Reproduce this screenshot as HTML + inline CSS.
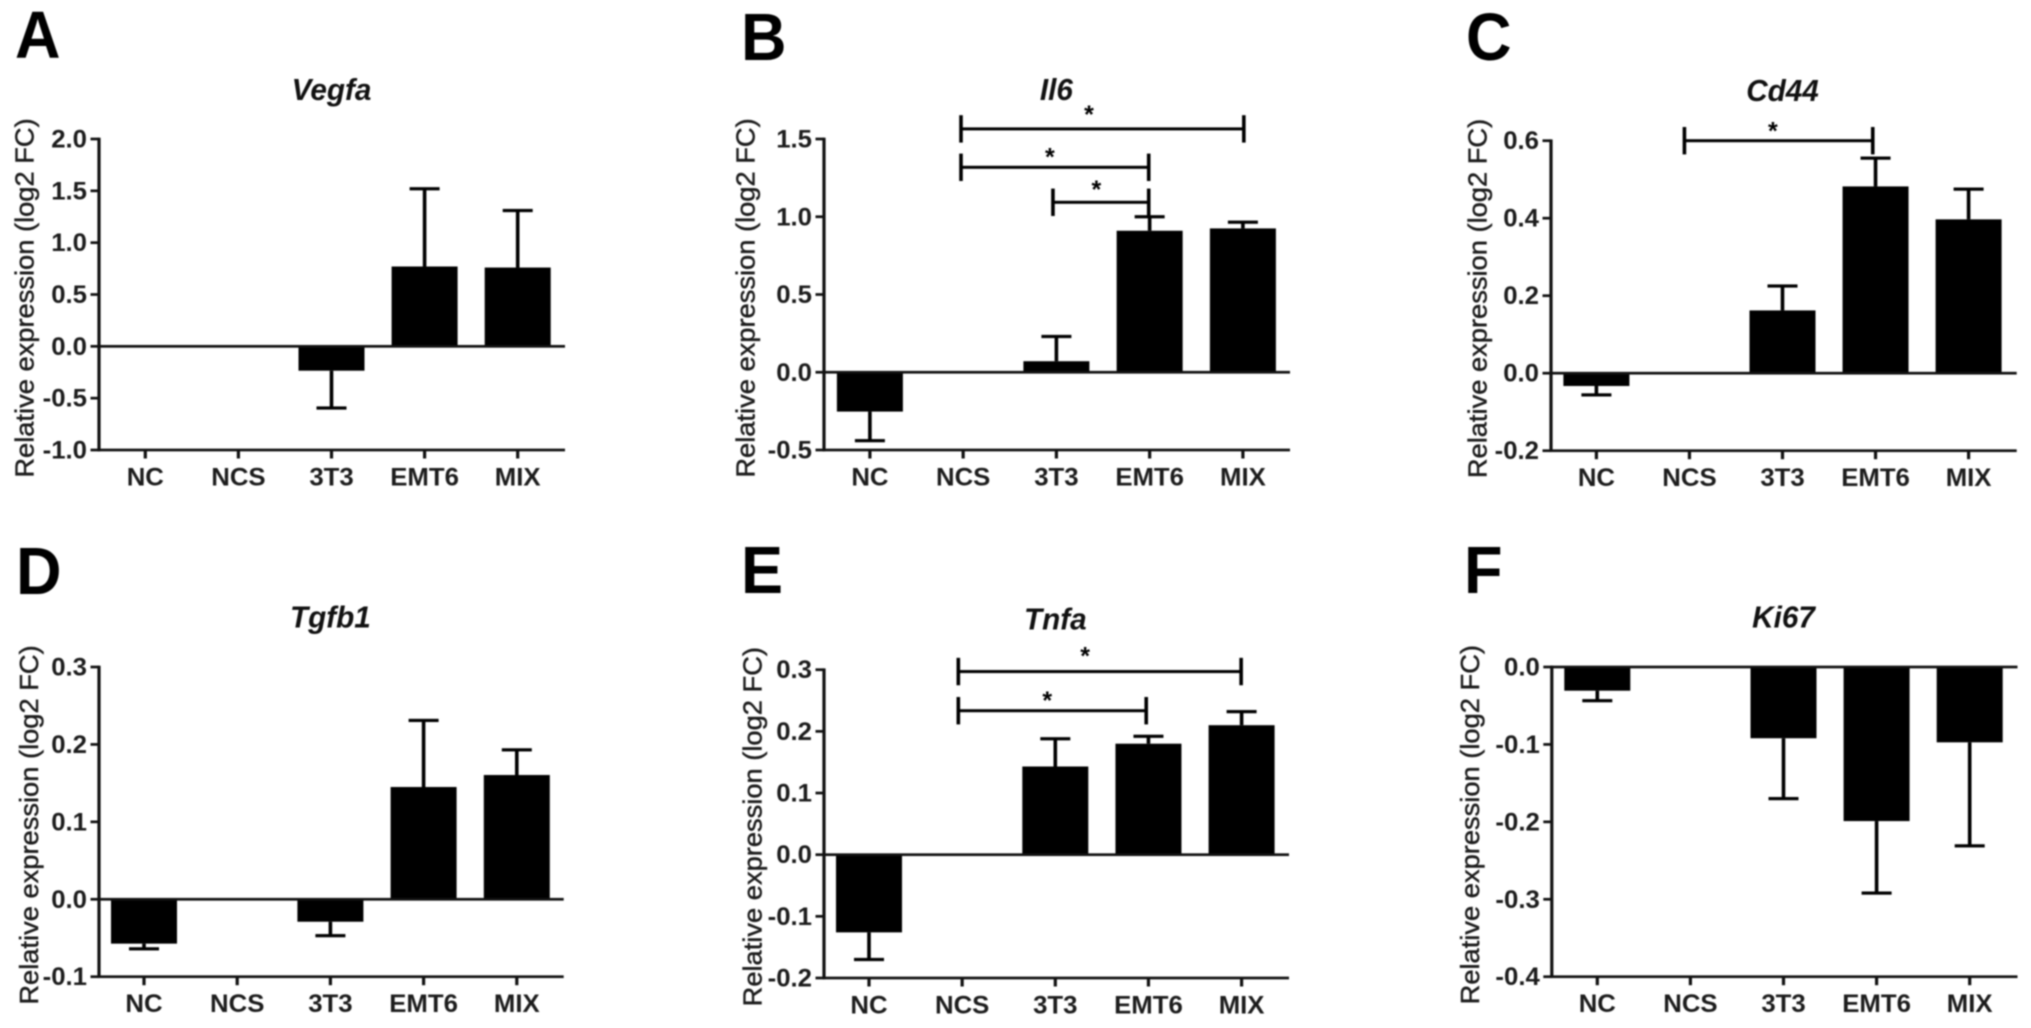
<!DOCTYPE html>
<html lang="en">
<head>
<meta charset="utf-8">
<title>Relative expression of Vegfa, Il6, Cd44, Tgfb1, Tnfa and Ki67</title>
<style>
html,body{margin:0;padding:0;background:#fff;width:2031px;height:1028px;overflow:hidden}
#figure{display:block;filter:blur(0.75px)}
text{font-family:"Liberation Sans",Arial,sans-serif;fill:#1c1c1c}
.tick{font-weight:700;font-size:23px}
.ytitle{font-weight:400;font-size:26px;stroke:#222;stroke-width:.45px}
.title{font-weight:700;font-style:italic;font-size:27px;fill:#111}
.letter{font-weight:700;font-size:63px;fill:#000}
.star{font-weight:700;font-size:25px;fill:#000}
</style>
</head>
<body>
<svg id="figure" xmlns="http://www.w3.org/2000/svg" width="2031" height="1028" viewBox="0 0 2031 1028"></svg>
<script>
// ---- shared categories and axis titles ----
const categories = ['NC', 'NCS', '3T3', 'EMT6', 'MIX'];
const yAxisTitle = 'Relative expression (log2 FC)';

// ---- panel A: Vegfa ----
const vegfaTicks = ['-1.0', '-0.5', '0.0', '0.5', '1.0', '1.5', '2.0'];
const vegfaValues = [null, null, -0.235, 0.77, 0.76];
const vegfaErrorTips = [null, null, -0.595, 1.52, 1.31];

// ---- panel B: Il6 ----
const il6Ticks = ['-0.5', '0.0', '0.5', '1.0', '1.5'];
const il6Values = [-0.253, null, 0.071, 0.91, 0.925];
const il6ErrorTips = [-0.44, null, 0.23, 1.0, 0.965];
const il6BracketFrom = [0.977, 0.977, 1.963];
const il6BracketTo = [4.01, 2.99, 2.99];
const il6BracketLevel = [1.565, 1.318, 1.093];
const il6StarCategory = [2.349, 1.93, 2.428];
const il6StarLevel = [1.693, 1.419, 1.211];

// ---- panel C: Cd44 ----
const cd44Ticks = ['-0.2', '0.0', '0.2', '0.4', '0.6'];
const cd44Values = [-0.033, null, 0.162, 0.482, 0.397];
const cd44ErrorTips = [-0.056, null, 0.225, 0.555, 0.475];
const cd44BracketFrom = [0.946];
const cd44BracketTo = [2.97];
const cd44BracketLevel = [0.6];
const cd44StarCategory = [1.897];
const cd44StarLevel = [0.639];

// ---- panel D: Tgfb1 ----
const tgfb1Ticks = ['-0.1', '0.0', '0.1', '0.2', '0.3'];
const tgfb1Values = [-0.0573, null, -0.029, 0.145, 0.1605];
const tgfb1ErrorTips = [-0.064, null, -0.047, 0.231, 0.193];

// ---- panel E: Tnfa ----
const tnfaTicks = ['-0.2', '-0.1', '0.0', '0.1', '0.2', '0.3'];
const tnfaValues = [-0.126, null, 0.143, 0.18, 0.21];
const tnfaErrorTips = [-0.17, null, 0.188, 0.192, 0.232];
const tnfaBracketFrom = [0.959, 0.959];
const tnfaBracketTo = [3.995, 2.976];
const tnfaBracketLevel = [0.297, 0.2335];
const tnfaStarCategory = [2.32, 1.914];
const tnfaStarLevel = [0.331, 0.259];

// ---- panel F: Ki67 ----
const ki67Ticks = ['-0.4', '-0.3', '-0.2', '-0.1', '0.0'];
const ki67Values = [-0.0306, null, -0.092, -0.199, -0.0973];
const ki67ErrorTips = [-0.0435, null, -0.17, -0.292, -0.231];

// ---- page layout (frame geometry only, no data) ----
const panelA = {letter:'A', letterX:15, letterY:58, gene:'Vegfa', titleY:99.3, axisX:99, right:565, top:139, bottom:450, first:145.3, step:93.1, yTitleX:33.4, yTitleY:298, ticks:vegfaTicks, values:vegfaValues, tips:vegfaErrorTips};
const panelB = {letter:'B', letterX:741, letterY:60, gene:'Il6', titleY:99.3, axisX:824, right:1290, top:139, bottom:450, first:869.9, step:93.25, yTitleX:754.6, yTitleY:298, ticks:il6Ticks, values:il6Values, tips:il6ErrorTips, from:il6BracketFrom, to:il6BracketTo, level:il6BracketLevel, starCat:il6StarCategory, starLevel:il6StarLevel};
const panelC = {letter:'C', letterX:1466, letterY:60, gene:'Cd44', titleY:100.7, axisX:1551, right:2016.7, top:140.7, bottom:450.7, first:1596.4, step:93.05, yTitleX:1486.3, yTitleY:298.5, ticks:cd44Ticks, values:cd44Values, tips:cd44ErrorTips, from:cd44BracketFrom, to:cd44BracketTo, level:cd44BracketLevel, starCat:cd44StarCategory, starLevel:cd44StarLevel};
const panelD = {letter:'D', letterX:16, letterY:594, gene:'Tgfb1', titleY:627, axisX:99, right:563.7, top:667, bottom:976.7, first:144, step:93.2, yTitleX:38, yTitleY:825, ticks:tgfb1Ticks, values:tgfb1Values, tips:tgfb1ErrorTips};
const panelE = {letter:'E', letterX:741, letterY:593, gene:'Tnfa', titleY:629, axisX:824, right:1289, top:669.7, bottom:978, first:869, step:93.15, yTitleX:761.5, yTitleY:826.7, ticks:tnfaTicks, values:tnfaValues, tips:tnfaErrorTips, from:tnfaBracketFrom, to:tnfaBracketTo, level:tnfaBracketLevel, starCat:tnfaStarCategory, starLevel:tnfaStarLevel};
const panelF = {letter:'F', letterX:1464, letterY:593, gene:'Ki67', titleY:627, axisX:1551.8, right:2017.5, top:667, bottom:976.7, first:1597.3, step:93.1, yTitleX:1479, yTitleY:824.7, ticks:ki67Ticks, values:ki67Values, tips:ki67ErrorTips};
const panels = [panelA, panelB, panelC, panelD, panelE, panelF];

const NS = 'http://www.w3.org/2000/svg';
const svg = document.getElementById('figure');
const BAR_W = 66, CAP_W = 30, TICK = 8.5, AXIS_V = 3.2, AXIS_H = 2.7, STEM = 3.6, CAP_H = 3.2, BR_TICK = 13.7;

function make(tag, parent, attrs) {
  const el = document.createElementNS(NS, tag);
  for (const k in attrs) el.setAttribute(k, attrs[k]);
  parent.appendChild(el);
  return el;
}
function rect(parent, x, y, w, h) {
  return make('rect', parent, {x: x, y: y, width: w, height: h, fill: '#000'});
}
function hline(parent, x1, x2, y, t, color) {
  const r = rect(parent, x1, y - t / 2, x2 - x1, t);
  r.setAttribute('fill', color || '#111');
  return r;
}
function vline(parent, x, y1, y2, t, color) {
  const r = rect(parent, x - t / 2, Math.min(y1, y2), t, Math.abs(y2 - y1));
  r.setAttribute('fill', color || '#111');
  return r;
}
function label(parent, cls, str, x, y, anchor, sx, sy) {
  const t = make('text', parent, {'class': cls, 'text-anchor': anchor,
    transform: 'translate(' + x + ' ' + y + ') scale(' + sx + ' ' + sy + ')'});
  t.textContent = str;
  return t;
}

panels.forEach(function (p) {
  const tickNums = p.ticks.map(parseFloat);
  const vMin = Math.min.apply(null, tickNums), vMax = Math.max.apply(null, tickNums);
  const yOf = function (v) { return p.top + (vMax - v) / (vMax - vMin) * (p.bottom - p.top); };
  const xOf = function (c) { return p.first + c * p.step; };

  const g = make('g', svg, {});
  
  

  const letter = label(g, 'letter', p.letter, p.letterX, p.letterY, 'start', 1, 1.06);
  
  

  const title = label(g, 'title', p.gene, xOf(2), p.titleY + 0.5, 'middle', 1.1, 1.12);
  
  

  const yTitle = make('text', g, {'class': 'ytitle', 'text-anchor': 'middle',
    transform: 'translate(' + p.yTitleX + ' ' + p.yTitleY + ') rotate(-90) scale(1.05 1)'});
  yTitle.textContent = yAxisTitle;
  
  

  // bars and error bars
  categories.forEach(function (cat, i) {
    const v = p.values[i], tip = p.tips[i];
    if (v === null) return;
    const cx = xOf(i), y0 = yOf(0), yv = yOf(v), ye = yOf(tip);
    const stem = vline(g, cx, yv, ye, STEM, '#000');
    
    
    const cap = hline(g, cx - CAP_W / 2, cx + CAP_W / 2, ye, CAP_H, '#000');
    
    
    const bar = rect(g, cx - BAR_W / 2, Math.min(y0, yv), BAR_W, Math.abs(yv - y0));
    
    
  });

  // y axis with ticks and labels
  const yAxis = vline(g, p.axisX, p.top - 1.3, p.bottom + 1.3, AXIS_V);
  
  
  p.ticks.forEach(function (txt, i) {
    const ty = yOf(tickNums[i]);
    const mark = hline(g, p.axisX - TICK, p.axisX, ty, AXIS_H);
    
    
    const lab = label(g, 'tick', txt, p.axisX - 12, ty + 8.5, 'end', 1.12, 1.1);
    
    
  });

  // zero line and bottom axis
  const zero = hline(g, p.axisX - 1.5, p.right, yOf(0), AXIS_H);
  
  
  const xAxis = hline(g, p.axisX - 1.5, p.right, p.bottom, AXIS_H);
  
  
  categories.forEach(function (cat, i) {
    const mark = vline(g, xOf(i), p.bottom, p.bottom + TICK, AXIS_V);
    
    
    const lab = label(g, 'tick', cat, xOf(i), p.bottom + 35.5, 'middle', 1.12, 1.1);
    
    
  });

  // significance brackets
  (p.from || []).forEach(function (fromCat, i) {
    const x1 = xOf(fromCat), x2 = xOf(p.to[i]), by = yOf(p.level[i]);
    const bg = make('g', g, {});
    
    
    hline(bg, x1, x2, by, 3, '#000');
    vline(bg, x1, by - BR_TICK, by + BR_TICK, 3.6, '#000');
    vline(bg, x2, by - BR_TICK, by + BR_TICK, 3.6, '#000');
    const star = label(bg, 'star', '*', xOf(p.starCat[i]), yOf(p.starLevel[i]) + 14, 'middle', 1, 1);
    
    
  });
});
</script>
</body>
</html>
